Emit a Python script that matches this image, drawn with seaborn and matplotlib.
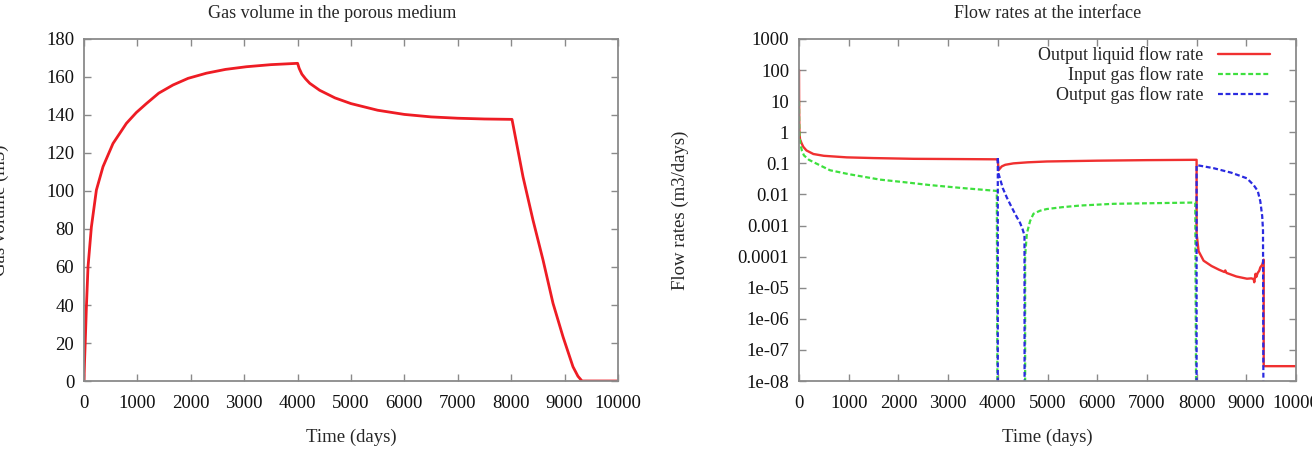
import numpy as np
import pandas as pd
import matplotlib
matplotlib.use("Agg")
import matplotlib.pyplot as plt
import matplotlib.ticker as mticker
import seaborn as sns

# ── Gas volume in the porous medium (left panel) ───────────
vol_time = [0, 10, 25, 45, 75, 138, 232, 356, 543, 794, 980, 1168, 1400,
            1667, 1950, 2292, 2650, 3041, 3500, 4000, 4030, 4080, 4150, 4227,
            4414, 4700, 5000, 5500, 6000, 6500, 7000, 7500, 8015, 8221, 8408,
            8596, 8783, 8970, 9157, 9250, 9326, 10000]
vol_gas = [0, 10, 22, 39, 60, 81, 100.5, 112.8, 125, 135.6, 141.3, 146,
           151.5, 155.8, 159.3, 162, 164, 165.4, 166.5, 167.2, 164.5, 161.5,
           159, 156.7, 153, 149, 146, 142.5, 140.3, 139, 138.3, 137.9, 137.7,
           107.5, 84.7, 63.7, 40.9, 23.3, 7.5, 2.5, 0, 0]

# ── Flow rates at the interface (right panel) ──────────────
ZERO = 1e-12  # zero flow, below the log axis

liq_time = [0, 2, 5, 10, 20, 50, 87, 150, 289, 500, 960, 1500, 2300, 3000,
            3980, 4000, 4013, 4080, 4150, 4315, 4600, 4987, 6000, 7000, 7973,
            8000, 8000, 8040, 8141, 8300, 8450, 8560, 8577, 8600, 8800, 9013,
            9100, 9148, 9160, 9185, 9200, 9230, 9260, 9282, 9320, 9350, 9350,
            10000]
liq_rate = [100, 10, 2, 0.9, 0.6, 0.45, 0.34, 0.26, 0.2, 0.175, 0.156, 0.148,
            0.14, 0.138, 0.135, 0.135, 0.06, 0.08, 0.09, 0.1, 0.108, 0.115,
            0.122, 0.127, 0.13, 0.13, 5.5e-4, 1.5e-4, 7.4e-5, 5e-5, 3.8e-5,
            3.2e-5, 3.6e-5, 3e-5, 2.3e-5, 1.95e-5, 2e-5, 1.9e-5, 1.5e-5,
            2.8e-5, 2.2e-5, 3e-5, 3.5e-5, 4.5e-5, 5.5e-5, 8e-5, 3e-8, 3e-8]

gin_time = [0, 3, 10, 30, 60, 100, 200, 289, 624, 1000, 1631, 2200, 2638,
            3300, 3980, 4000, 4550, 4550, 4584, 4650, 4718, 4850, 4987, 5300,
            5658, 6329, 7000, 7973, 8000, 10000]
gin_rate = [10, 2, 0.7, 0.4, 0.25, 0.18, 0.13, 0.11, 0.06, 0.045, 0.03,
            0.024, 0.02, 0.016, 0.013, ZERO, ZERO, 1e-4, 5.5e-4, 0.0014,
            0.0024, 0.003, 0.0034, 0.0039, 0.0044, 0.005, 0.0052, 0.0055,
            ZERO, ZERO]

gout_time = [0, 4000, 4000, 4013, 4100, 4181, 4250, 4315, 4380, 4450, 4500,
             4537, 4540, 8000, 8000, 8342, 8700, 9013, 9148, 9230, 9282,
             9320, 9336, 9350, 10000]
gout_rate = [ZERO, ZERO, 0.16, 0.048, 0.016, 0.008, 0.0048, 0.003, 0.0019,
             0.0012, 7.5e-4, 4.8e-4, ZERO, ZERO, 0.088, 0.07, 0.05, 0.033,
             0.02, 0.013, 0.006, 0.002, 7e-4, ZERO, ZERO]

labels = ["Output liquid flow rate", "Input gas flow rate", "Output gas flow rate"]
colors = ["#f03030", "#3ee03e", "#2a2ae0"]

x_ticks = list(range(0, 10001, 1000))
vol_ticks = list(range(0, 181, 20))
rate_ticks = [1e-8, 1e-7, 1e-6, 1e-5, 1e-4, 1e-3, 1e-2, 1e-1, 1, 10, 100, 1000]
rate_tick_labels = ["1e-08", "1e-07", "1e-06", "1e-05", "0.0001", "0.001",
                    "0.01", "0.1", "1", "10", "100", "1000"]

sns.set_theme(style="ticks")
plt.rcParams["font.family"] = ["Liberation Serif", "DejaVu Serif"]
plt.rcParams["font.size"] = 13
FRAME = "#8a8a8a"
FS = 13.5


def style_axes(ax):
    for sp in ax.spines.values():
        sp.set_visible(True)
        sp.set_color(FRAME)
        sp.set_linewidth(1.3)
    ax.tick_params(which="major", direction="in", length=5, width=1.0,
                   color=FRAME, top=True, right=True, labelsize=FS,
                   labelcolor="#111111")
    ax.tick_params(axis="x", pad=10)
    ax.tick_params(axis="y", pad=7)
    ax.tick_params(which="minor", length=0)
    ax.set_facecolor("white")


fig = plt.figure(figsize=(13.12, 4.57), dpi=100)
ax1 = fig.add_axes([84 / 1312, 1 - 381 / 457, 534 / 1312, 342 / 457])
ax2 = fig.add_axes([799 / 1312, 1 - 381 / 457, 497 / 1312, 342 / 457])

# left panel
df_vol = pd.DataFrame({"t": vol_time, "v": vol_gas})
sns.lineplot(data=df_vol, x="t", y="v", ax=ax1, color="#ee1c24", lw=2.0,
             estimator=None, sort=False)
ax1.set_xlim(0, 10000)
ax1.set_ylim(0, 180)
ax1.set_xticks(x_ticks)
ax1.set_yticks(vol_ticks)
style_axes(ax1)
ax1.set_xlabel("Time (days)", fontsize=FS)
ax1.xaxis.set_label_coords(0.5, -0.14)
ax1.set_ylabel("Gas volume (m3)", fontsize=FS)
ax1.yaxis.set_label_coords(-0.141, 0.5)
ax1.set_title("Gas volume in the porous medium", fontsize=13,
              x=0.464, y=1.062, pad=0)

# right panel
series = [(liq_time, liq_rate, "-", 1.7),
          (gin_time, gin_rate, (0, (2.2, 1.2)), 1.6),
          (gout_time, gout_rate, (0, (2.2, 1.2)), 1.6)]
for (t, r, ls, lw), lab, col in zip(series, labels, colors):
    d = pd.DataFrame({"t": t, "r": r})
    sns.lineplot(data=d, x="t", y="r", ax=ax2, color=col, linestyle=ls, lw=lw,
                 estimator=None, sort=False, label=lab)
ax2.set_yscale("log")
ax2.set_xlim(0, 10000)
ax2.set_ylim(1e-8, 1000)
ax2.set_xticks(x_ticks)
ax2.set_yticks(rate_ticks)
ax2.yaxis.set_major_formatter(mticker.FixedFormatter(rate_tick_labels))
ax2.yaxis.set_minor_locator(mticker.NullLocator())
style_axes(ax2)
ax2.set_xlabel("Time (days)", fontsize=FS)
ax2.xaxis.set_label_coords(0.5, -0.14)
ax2.set_ylabel("Flow rates (m3/days)", fontsize=FS)
ax2.yaxis.set_label_coords(-0.222, 0.5)
ax2.set_title("Flow rates at the interface", fontsize=13, y=1.062, pad=0)

ax2.legend(loc="upper right", bbox_to_anchor=(0.963, 1.0), frameon=False,
           markerfirst=False, fontsize=13, handlelength=2.9, handletextpad=0.8,
           labelspacing=0.12, borderaxespad=0)

fig.savefig("out.png", dpi=100)
plt.close()
